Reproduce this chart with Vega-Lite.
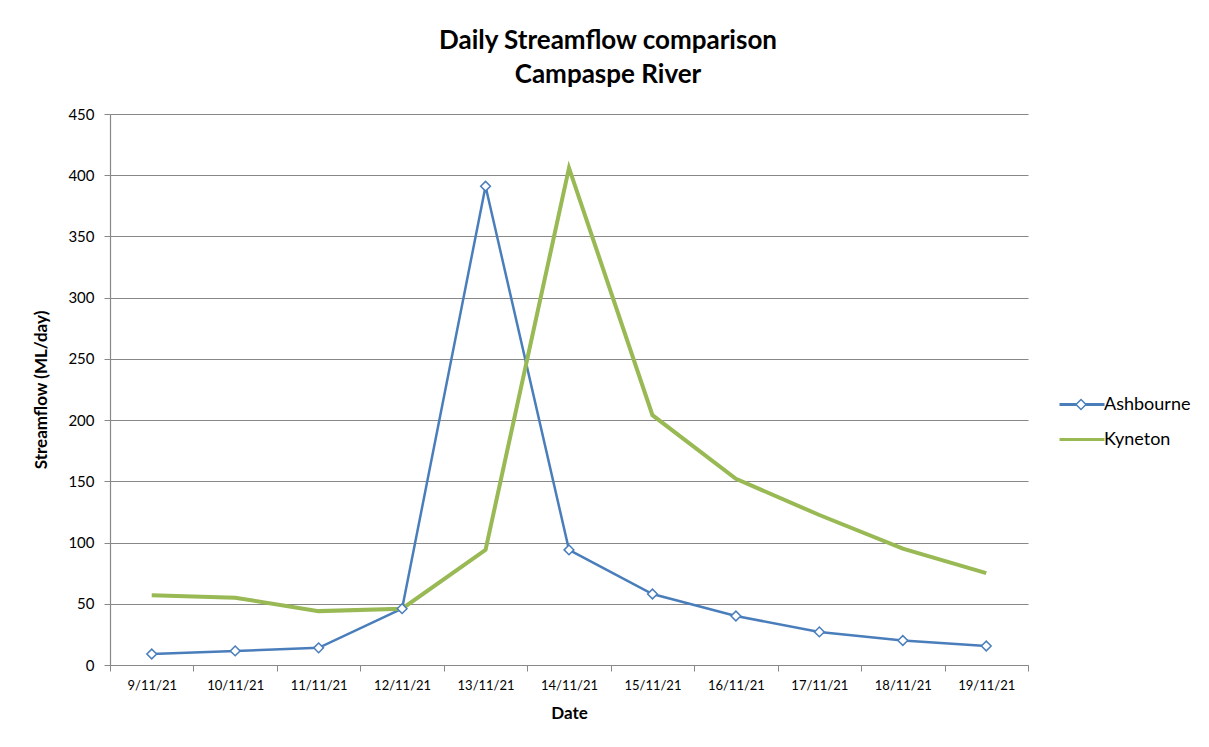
{
  "$schema": "https://vega.github.io/schema/vega-lite/v6.json",
  "autosize": "none",
  "width": 918,
  "height": 551,
  "padding": {"left": 110, "top": 114, "right": 181, "bottom": 82},
  "background": "white",
  "config": {
    "font": "Lato",
    "view": {"stroke": null},
    "axis": {"labelFont": "Lato", "titleFont": "Lato", "labelColor": "black", "titleColor": "black", "domainColor": "#888888", "tickColor": "#888888", "gridColor": "#888888", "gridWidth": 1.2, "domainWidth": 1.2}
  },
  "title": {
    "text": ["Daily Streamflow comparison", "Campaspe River"],
    "fontSize": 26,
    "fontWeight": "bold",
    "font": "Lato",
    "lineHeight": 34,
    "anchor": "middle",
    "dx": 39,
    "offset": 19,
    "color": "black"
  },
  "resolve": {"legend": {"shape": "independent", "color": "independent"}},
  "data": {
    "values": [
      {"date": "9/11/21", "series": "Ashbourne", "flow": 9},
      {"date": "10/11/21", "series": "Ashbourne", "flow": 11.5},
      {"date": "11/11/21", "series": "Ashbourne", "flow": 14},
      {"date": "12/11/21", "series": "Ashbourne", "flow": 46},
      {"date": "13/11/21", "series": "Ashbourne", "flow": 391},
      {"date": "14/11/21", "series": "Ashbourne", "flow": 94},
      {"date": "15/11/21", "series": "Ashbourne", "flow": 58},
      {"date": "16/11/21", "series": "Ashbourne", "flow": 40},
      {"date": "17/11/21", "series": "Ashbourne", "flow": 27},
      {"date": "18/11/21", "series": "Ashbourne", "flow": 20},
      {"date": "19/11/21", "series": "Ashbourne", "flow": 15.5},
      {"date": "9/11/21", "series": "Kyneton", "flow": 57},
      {"date": "10/11/21", "series": "Kyneton", "flow": 55},
      {"date": "11/11/21", "series": "Kyneton", "flow": 44},
      {"date": "12/11/21", "series": "Kyneton", "flow": 46},
      {"date": "13/11/21", "series": "Kyneton", "flow": 94},
      {"date": "14/11/21", "series": "Kyneton", "flow": 406},
      {"date": "15/11/21", "series": "Kyneton", "flow": 204},
      {"date": "16/11/21", "series": "Kyneton", "flow": 152},
      {"date": "17/11/21", "series": "Kyneton", "flow": 122.5},
      {"date": "18/11/21", "series": "Kyneton", "flow": 95},
      {"date": "19/11/21", "series": "Kyneton", "flow": 75}
    ]
  },
  "encoding": {
    "x": {
      "field": "date", "type": "ordinal", "sort": null,
      "scale": {"type": "band", "paddingInner": 0, "paddingOuter": 0},
      "axis": {"title": "Date", "titleFontSize": 17, "titleFontWeight": "bold", "labelFontSize": 13, "labelAngle": 0, "tickBand": "extent", "tickSize": 6, "labelPadding": 8, "titlePadding": 13, "grid": false}
    },
    "y": {
      "field": "flow", "type": "quantitative",
      "scale": {"domain": [0, 450], "nice": false},
      "axis": {"title": "Streamflow (ML/day)", "titleFontSize": 17, "titleFontWeight": "bold", "labelFontSize": 15, "values": [0, 50, 100, 150, 200, 250, 300, 350, 400, 450], "tickSize": 6, "labelPadding": 10, "titlePadding": 17, "grid": true}
    }
  },
  "layer": [
    {
      "mark": {"type": "line"},
      "encoding": {
        "color": {
          "field": "series", "type": "nominal",
          "scale": {"domain": ["Ashbourne", "Kyneton"], "range": ["#4A7EBB", "#98B954"]},
          "legend": {"title": null, "orient": "none", "legendX": 948, "legendY": 273, "symbolType": "stroke", "symbolSize": 2025, "symbolStrokeWidth": 3, "labelFontSize": 18, "labelFont": "Lato", "labelColor": "black", "labelOffset": -2, "clipHeight": 35, "rowPadding": 0}
        },
        "strokeWidth": {"field": "series", "type": "nominal", "scale": {"domain": ["Ashbourne", "Kyneton"], "range": [2.5, 4]}, "legend": null}
      }
    },
    {
      "transform": [{"filter": "datum.series === 'Ashbourne'"}],
      "mark": {"type": "point", "filled": true, "fill": "white", "stroke": "#4A7EBB", "strokeWidth": 1.5, "size": 95, "opacity": 1},
      "encoding": {
        "shape": {
          "field": "series", "type": "nominal",
          "scale": {"domain": ["Ashbourne"], "range": ["diamond"]},
          "legend": {
            "title": null, "orient": "none", "legendX": 962, "legendY": 273, "symbolSize": 100, "labelExpr": "''", "labelFontSize": 18, "clipHeight": 35, "rowPadding": 0,
            "encode": {"symbols": {"update": {"stroke": {"value": "#4A7EBB"}, "fill": {"value": "white"}, "strokeWidth": {"value": 1.6}, "opacity": {"value": 1}}}}
          }
        }
      }
    }
  ]
}
